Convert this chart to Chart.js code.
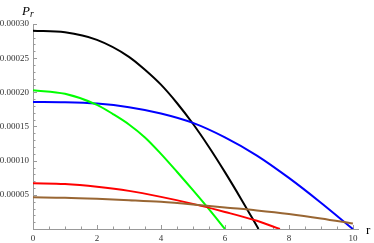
<!DOCTYPE html>
<html>
<head>
<meta charset="utf-8">
<script src="https://cdn.jsdelivr.net/npm/chart.js@4"></script>
<style>
html, body { margin: 0; padding: 0; background: #fff; }
#wrap { width: 374px; height: 243px; }
</style>
</head>
<body>
<div id="wrap"><canvas id="myChart" width="374" height="243"></canvas></div>
<script>
// tick labels
var xTicks = [0, 2, 4, 6, 8, 10];
var yTicks = [0.00005, 0.0001, 0.00015, 0.0002, 0.00025, 0.0003];

// curves (r, P_r)
var blackR = [0, 1, 2, 3, 3.5, 4, 4.5, 5, 5.5, 6, 6.5, 7.05];
var blackP = [0.000290, 0.0002878, 0.0002767, 0.000252, 0.000233, 0.0002112, 0.0001844, 0.000154, 0.000120, 0.0000832, 0.0000444, 0];

var greenR = [0, 1, 2, 2.5, 3, 3.5, 4, 4.5, 5, 5.5, 6];
var greenP = [0.000203, 0.0001978, 0.0001817, 0.0001682, 0.000153, 0.000134, 0.000110, 0.0000838, 0.0000568, 0.000029, 0];

var blueR = [0, 1, 2, 3, 4, 5, 6, 7, 8, 9, 10];
var blueP = [0.000186, 0.0001856, 0.0001836, 0.0001783, 0.0001691, 0.0001553, 0.0001341, 0.0001075, 0.0000748, 0.0000385, 0];

var redR = [0, 1, 2, 3, 4, 5, 6, 7, 7.72];
var redP = [0.0000668, 0.0000657, 0.0000618, 0.0000558, 0.000047, 0.0000368, 0.000025, 0.000012, 0];

var brownR = [0, 1, 2, 3, 4, 5, 6, 7, 8, 9, 10];
var brownP = [0.0000463, 0.0000457, 0.0000442, 0.0000422, 0.0000398, 0.0000360, 0.0000315, 0.0000272, 0.0000220, 0.0000155, 0.0000080];

function pts(r, p) {
    return r.map(function (v, i) { return { x: v, y: p[i] }; });
}

function line(r, p, color) {
    return {
        data: pts(r, p),
        borderColor: color,
        backgroundColor: 'transparent',
        borderWidth: 2,
        pointRadius: 0,
        cubicInterpolationMode: 'monotone'
    };
}

// Mathematica style ticks pointing inward, plus the axis names
var axisDecor = {
    id: 'axisDecor',
    beforeDatasetsDraw: function (chart) {
        var ctx = chart.ctx, xs = chart.scales.x, ys = chart.scales.y;
        ctx.save();
        ctx.strokeStyle = '#999';
        ctx.lineWidth = 1;
        ctx.beginPath();
        for (var i = 0; i <= 20; i++) {
            var px = Math.round(xs.getPixelForValue(i * 0.5)) + 0.5;
            var len = i % 4 === 0 ? 4 : 2.5;
            ctx.moveTo(px, ys.bottom);
            ctx.lineTo(px, ys.bottom - len);
        }
        for (var j = 1; j <= 30; j++) {
            var py = Math.round(ys.getPixelForValue(j * 0.00001)) + 0.5;
            var len2 = j % 5 === 0 ? 4 : 2.5;
            ctx.moveTo(xs.left, py);
            ctx.lineTo(xs.left + len2, py);
        }
        ctx.stroke();
        ctx.restore();
    },
    afterDraw: function (chart) {
        var ctx = chart.ctx;
        ctx.save();
        ctx.fillStyle = '#000';
        ctx.textBaseline = 'alphabetic';
        ctx.font = 'italic 13px "Liberation Serif"';
        ctx.fillText('P', 22, 15);
        ctx.font = 'italic 9.5px "Liberation Serif"';
        ctx.fillText('r', 30, 17);
        ctx.font = '13px "Liberation Serif"';
        ctx.fillText('r', 366, 234);
        ctx.restore();
    }
};

var tickFont = { family: '"Liberation Serif"', size: 9 };

var ctx = document.getElementById('myChart').getContext('2d');
var myChart = new Chart(ctx, {
    type: 'line',
    data: {
        datasets: [
            line(brownR, brownP, 'rgb(153,102,51)'),
            line(redR, redP, 'rgb(255,0,0)'),
            line(greenR, greenP, 'rgb(0,255,0)'),
            line(blueR, blueP, 'rgb(0,0,255)'),
            line(blackR, blackP, 'rgb(0,0,0)')
        ]
    },
    options: {
        responsive: false,
        animation: false,
        devicePixelRatio: 1,
        layout: { padding: { top: 24, right: 16, left: 0, bottom: 0 } },
        plugins: {
            legend: { display: false },
            tooltip: { enabled: false }
        },
        scales: {
            x: {
                type: 'linear',
                min: 0,
                max: 10.16,
                grid: { display: false, drawTicks: false },
                border: { display: true, color: '#999', width: 1 },
                afterBuildTicks: function (scale) {
                    scale.ticks = xTicks.map(function (v) { return { value: v }; });
                },
                afterFit: function (scale) { scale.height = 14; },
                ticks: {
                    font: tickFont,
                    color: '#333',
                    padding: 4,
                    maxRotation: 0,
                    callback: function (v) { return String(v); }
                }
            },
            y: {
                type: 'linear',
                min: 0,
                max: 0.0003,
                grid: { display: false, drawTicks: false },
                border: { display: true, color: '#999', width: 1 },
                afterBuildTicks: function (scale) {
                    scale.ticks = yTicks.map(function (v) { return { value: v }; });
                },
                afterFit: function (scale) { scale.width = 33; },
                ticks: {
                    font: tickFont,
                    color: '#333',
                    padding: 4,
                    callback: function (v) { return v.toFixed(5); }
                }
            }
        }
    },
    plugins: [axisDecor]
});
</script>
</body>
</html>
